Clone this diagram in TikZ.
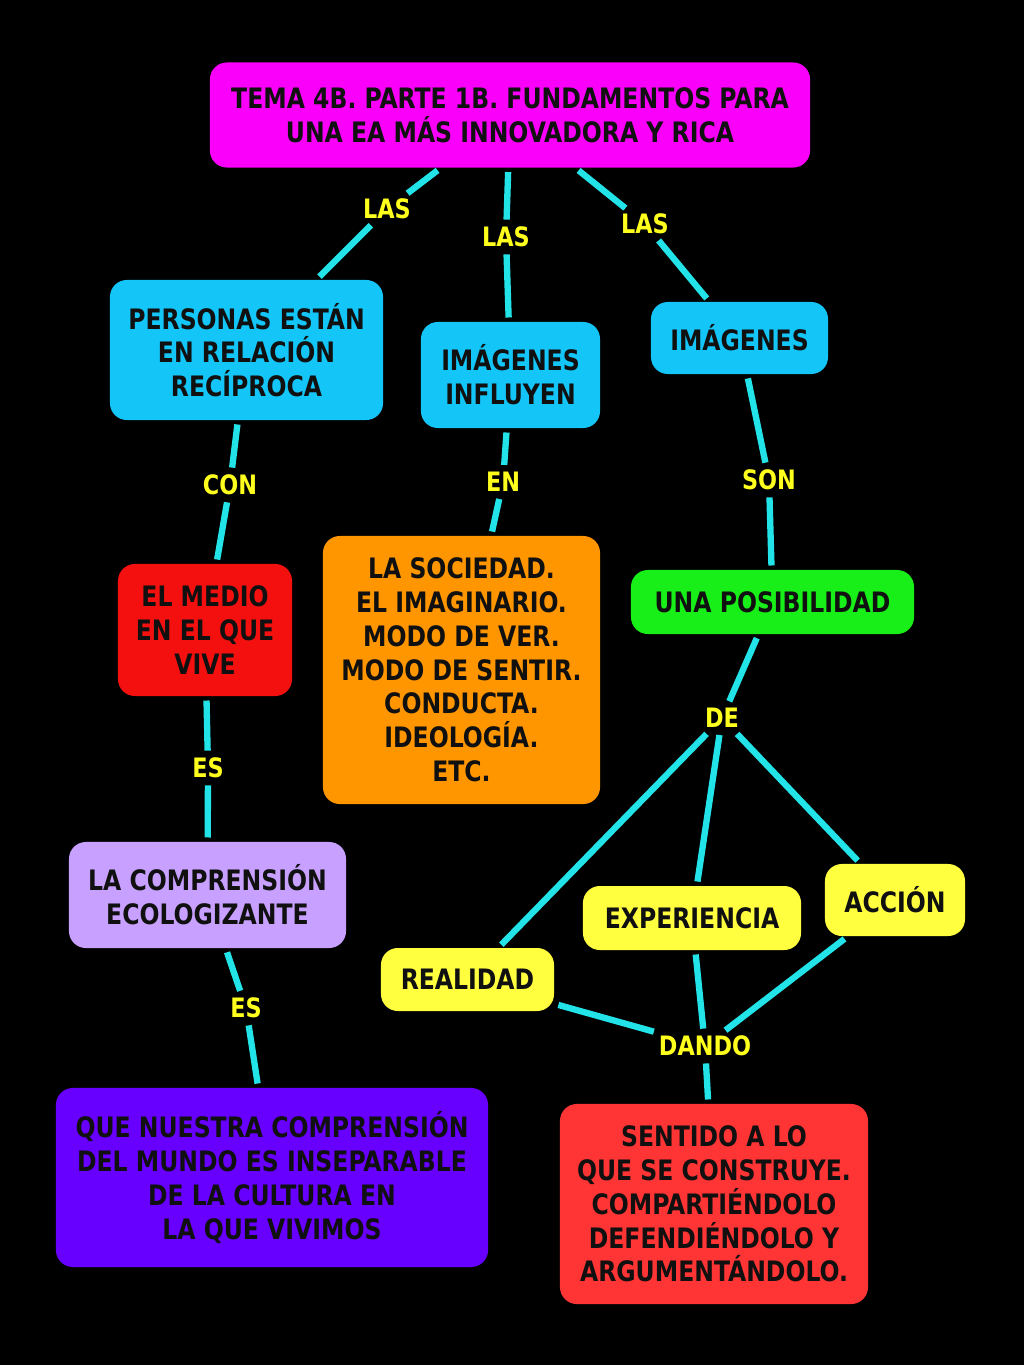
\documentclass[tikz,border=0pt]{standalone}
\usepackage{fontspec}
\setmainfont{DejaVu Sans Condensed}[FakeStretch=0.93]

\definecolor{linecyan}{RGB}{34,228,232}
\definecolor{boxcyan}{RGB}{20,198,248}
\definecolor{boxmag}{RGB}{250,0,250}
\definecolor{boxred}{RGB}{245,16,16}
\definecolor{boxorange}{RGB}{255,150,0}
\definecolor{boxgreen}{RGB}{24,238,24}
\definecolor{boxlila}{RGB}{200,160,255}
\definecolor{boxyellow}{RGB}{255,255,64}
\definecolor{boxviolet}{RGB}{104,0,255}
\definecolor{boxsalmon}{RGB}{255,52,52}
\definecolor{lbltext}{RGB}{255,255,30}
\definecolor{boxtext}{RGB}{16,16,16}

\begin{document}
\begin{tikzpicture}[x=0.025cm, y=-0.025cm]
    % 设置样式
    \tikzset{
        box/.style={rectangle, rounded corners=12pt, draw=none, inner sep=0pt,
            align=center, text=boxtext, font=\fontsize{20}{24}\selectfont\bfseries},
        lbl/.style={inner sep=2pt, text=lbltext, font=\fontsize{19}{23}\selectfont\bfseries},
        link/.style={draw=linecyan, line width=4.5pt, shorten <=3pt, shorten >=3pt},
    }

    % 黑色背景
    \fill[black] (0,0) rectangle (1024,1365);
    \useasboundingbox (0,0) rectangle (1024,1365);

    % 概念框
    \node[box, fill=boxmag, minimum width=15cm, minimum height=2.625cm] (title) at (510,115)
        {TEMA 4B. PARTE 1B. FUNDAMENTOS PARA\\UNA EA MÁS INNOVADORA Y RICA};
    \node[box, fill=boxcyan, minimum width=6.825cm, minimum height=3.5cm] (pers) at (246.5,350)
        {PERSONAS ESTÁN\\EN RELACIÓN\\RECÍPROCA};
    \node[box, fill=boxcyan, minimum width=4.475cm, minimum height=2.65cm] (imginf) at (510.5,375)
        {IMÁGENES\\INFLUYEN};
    \node[box, fill=boxcyan, minimum width=4.425cm, minimum height=1.8cm] (imgs) at (739.5,338)
        {IMÁGENES};
    \node[box, fill=boxred, minimum width=4.35cm, minimum height=3.3cm] (medio) at (205,630)
        {EL MEDIO\\EN EL QUE\\VIVE};
    \node[box, fill=boxorange, minimum width=6.925cm, minimum height=6.7cm] (soc) at (461.5,670)
        {LA SOCIEDAD.\\EL IMAGINARIO.\\MODO DE VER.\\MODO DE SENTIR.\\CONDUCTA.\\IDEOLOGÍA.\\ETC.};
    \node[box, fill=boxgreen, minimum width=7.075cm, minimum height=1.6cm] (posib) at (772.5,602)
        {UNA POSIBILIDAD};
    \node[box, fill=boxlila, minimum width=6.925cm, minimum height=2.65cm] (compr) at (207.5,895)
        {LA COMPRENSIÓN\\ECOLOGIZANTE};
    \node[box, fill=boxyellow, minimum width=5.45cm, minimum height=1.6cm] (exper) at (692,918)
        {EXPERIENCIA};
    \node[box, fill=boxyellow, minimum width=3.5cm, minimum height=1.8cm] (accion) at (895,900)
        {ACCIÓN};
    \node[box, fill=boxyellow, minimum width=4.325cm, minimum height=1.575cm] (real) at (467.5,979.5)
        {REALIDAD};
    \node[box, fill=boxviolet, minimum width=10.8cm, minimum height=4.475cm] (nuestra) at (272,1177.5)
        {QUE NUESTRA COMPRENSIÓN\\DEL MUNDO ES INSEPARABLE\\DE LA CULTURA EN\\LA QUE VIVIMOS};
    \node[box, fill=boxsalmon, minimum width=7.7cm, minimum height=5cm] (sent) at (714,1204)
        {SENTIDO A LO\\QUE SE CONSTRUYE.\\COMPARTIÉNDOLO\\DEFENDIÉNDOLO Y\\ARGUMENTÁNDOLO.};

    % 连接词
    \foreach \n/\p/\t in {las1/{387,209}/LAS, las2/{506,237}/LAS, las3/{645,224}/LAS,
        con/{230,485}/CON, en/{503,482}/EN, son/{769,480}/SON, esa/{208,768}/ES,
        de/{722,718}/DE, esb/{246,1008}/ES, dando/{705,1046}/DANDO} {
        \node[lbl] (\n) at (\p) {\t};
    }

    % 连线
    \foreach \a/\b in {title/las1, las1/pers, title/las2, las2/imginf, title/las3, las3/imgs,
        pers/con, con/medio, imginf/en, en/soc, imgs/son, son/posib,
        medio/esa, esa/compr, compr/esb, esb/nuestra,
        posib/de, de/real, de/exper, de/accion,
        real/dando, exper/dando, accion/dando, dando/sent} {
        \draw[link] (\a) -- (\b);
    }
\end{tikzpicture}
\end{document}
